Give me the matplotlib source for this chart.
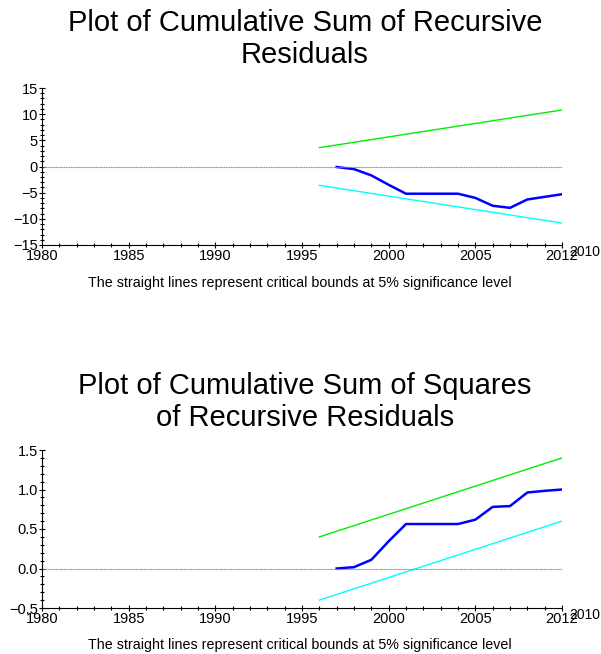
import matplotlib
matplotlib.use('Agg')
import matplotlib.pyplot as plt
from matplotlib.ticker import MultipleLocator, FixedLocator

plt.rcParams['font.family'] = ['Liberation Sans', 'DejaVu Sans']

# Daten
years = [1997, 1998, 1999, 2000, 2001, 2002, 2003, 2004, 2005, 2006, 2007, 2008, 2009, 2010]
cusum = [-0.1, -0.5, -1.7, -3.5, -5.2, -5.2, -5.2, -5.2, -6.0, -7.5, -7.9, -6.3, -5.8, -5.3]
cusum_upper = [3.6, 10.8]
cusum_lower = [-3.6, -10.8]

cusumsq = [0.0, 0.017, 0.11, 0.345, 0.563, 0.563, 0.563, 0.563, 0.618, 0.78, 0.79, 0.962, 0.983, 1.0]
cusumsq_upper = [0.40, 1.40]
cusumsq_lower = [-0.40, 0.60]

bound_years = [1996, 2010]
xtick_pos = [1980, 1985, 1990, 1995, 2000, 2005, 2010]
xtick_labels = ['1980', '1985', '1990', '1995', '2000', '2005', '2012']

caption = 'The straight lines represent critical bounds at 5% significance level'

fig = plt.figure(figsize=(6.01, 6.54), dpi=100)
W, H = 601, 654


def make_axes(top, bottom):
    return fig.add_axes([42 / W, 1 - bottom / H, (562 - 42) / W, (bottom - top) / H])


def style_axes(ax, ylim, major, minor, fmt):
    ax.set_xlim(1980, 2010)
    ax.set_ylim(*ylim)
    for s in ['top', 'right']:
        ax.spines[s].set_visible(False)
    for s in ['left', 'bottom']:
        ax.spines[s].set_linewidth(0.8)
    ax.xaxis.set_major_locator(FixedLocator(xtick_pos))
    ax.set_xticklabels(xtick_labels)
    ax.xaxis.set_minor_locator(MultipleLocator(1))
    ax.yaxis.set_major_locator(MultipleLocator(major))
    ax.yaxis.set_minor_locator(MultipleLocator(minor))
    ax.yaxis.set_major_formatter(fmt)
    ax.tick_params(which='major', direction='inout', length=5, width=0.8, labelsize=10.5, pad=0.5)
    ax.tick_params(which='minor', direction='inout', length=3, width=0.8)
    # zweite Beschriftung rechts neben der letzten wie im Original
    ax.text(2011.3, ylim[0], '2010', fontsize=10, ha='center', va='top', clip_on=False)
    ax.axhline(0, color='#888888', lw=0.8, ls=(0, (1, 0.5)))


# Oberes Diagramm: CUSUM
ax1 = make_axes(88, 245)
ax1.plot(bound_years, cusum_upper, color='#00ee00', lw=1)
ax1.plot(bound_years, cusum_lower, color='#00ffff', lw=1)
ax1.plot(years, cusum, color='#0000ff', lw=1.8)
style_axes(ax1, (-15, 15), 5, 1, '{x:.0f}')
fig.text(305 / W, 1 - 39 / H, 'Plot of Cumulative Sum of Recursive\nResiduals',
         fontsize=21, ha='center', va='center', linespacing=1.15)
fig.text(300 / W, 1 - 283 / H, caption, fontsize=10.3, ha='center', va='center')

# Unteres Diagramm: CUSUM of squares
ax2 = make_axes(450, 608)
ax2.plot(bound_years, cusumsq_upper, color='#00ee00', lw=1)
ax2.plot(bound_years, cusumsq_lower, color='#00ffff', lw=1)
ax2.plot(years, cusumsq, color='#0000ff', lw=1.8)
style_axes(ax2, (-0.5, 1.5), 0.5, 0.1, '{x:.1f}')
fig.text(305 / W, 1 - 402 / H, 'Plot of Cumulative Sum of Squares\nof Recursive Residuals',
         fontsize=21, ha='center', va='center', linespacing=1.15)
fig.text(300 / W, 1 - 645 / H, caption, fontsize=10.3, ha='center', va='center')

fig.savefig('out.png', dpi=100)
